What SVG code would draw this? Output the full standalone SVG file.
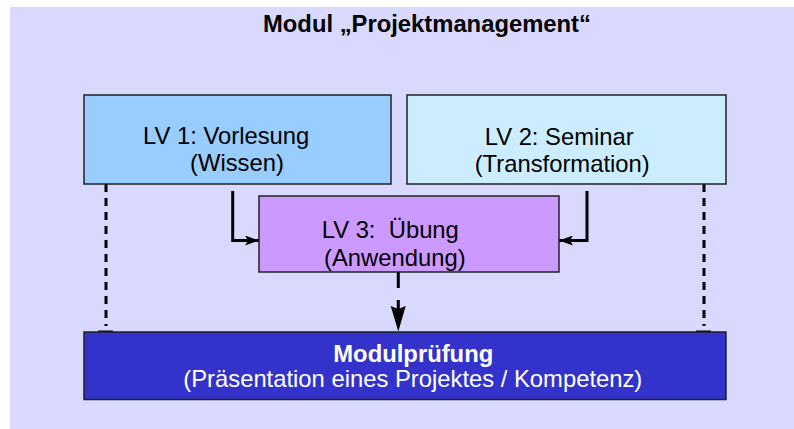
<svg xmlns="http://www.w3.org/2000/svg" width="794" height="429" viewBox="0 0 794 429">
<defs>
<style>
.box{stroke:#222;stroke-width:1.5}
.t{font-family:"Liberation Sans",Arial,sans-serif;font-size:23.8px;fill:#000}
.b{font-weight:bold}
.w{fill:#fff}
.con{fill:none;stroke:#000;stroke-width:3}
.dash{stroke-dasharray:8 6}
</style>
<marker id="ah" viewBox="0 0 14 10" refX="14" refY="5" markerWidth="14" markerHeight="10" markerUnits="userSpaceOnUse" orient="auto">
<path d="M0,0 L14,5 L0,10 L3,5 Z" fill="#000"/>
</marker>
</defs>
<rect x="0" y="0" width="794" height="429" fill="#fff"/>
<rect x="10" y="7" width="784" height="422" fill="#D9D9FF"/>
<text class="t b" x="263" y="31.7">Modul „Projektmanagement“</text>
<g id="connectors">
<path class="con dash" d="M106,184 V326"/>
<path class="con" d="M98,332 H113" stroke-width="2"/>
<path class="con dash" d="M704,184 V326"/>
<path class="con" d="M696,332 H711" stroke-width="2"/>
<path class="con" d="M232.7,191 V240.5 H259" marker-end="url(#ah)"/>
<path class="con" d="M587,191 V240.5 H559" marker-end="url(#ah)"/>
<path class="con" d="M398.3,272 V320" stroke-dasharray="16 12"/>
<path d="M390.7,306 L398.3,309 L405.7,306 L398.3,331.5 Z" fill="#000"/>
</g>
<g id="lv1">
<rect class="box" x="84" y="95" width="307" height="89" fill="#99CCFF"/>
<text class="t" x="143" y="144.3">LV 1: Vorlesung</text>
<text class="t" x="190" y="170.5">(Wissen)</text>
</g>
<g id="lv2">
<rect class="box" x="407" y="95" width="319" height="89" fill="#CCECFF"/>
<text class="t" x="484.7" y="145">LV 2: Seminar</text>
<text class="t" x="474.7" y="171.5">(Transformation)</text>
</g>
<g id="lv3">
<rect class="box" x="259" y="196" width="300" height="76" fill="#CC99FF"/>
<text class="t" x="321.7" y="238.3" xml:space="preserve">LV 3:  Übung</text>
<text class="t" x="324" y="265.5">(Anwendung)</text>
</g>
<g id="modulpruefung">
<rect class="box" x="84" y="332" width="642" height="67.5" fill="#3333CC"/>
<text class="t b w" x="333.3" y="361.7">Modulprüfung</text>
<text class="t w" x="183.3" y="386.5">(Präsentation eines Projektes / Kompetenz)</text>
</g>
</svg>
